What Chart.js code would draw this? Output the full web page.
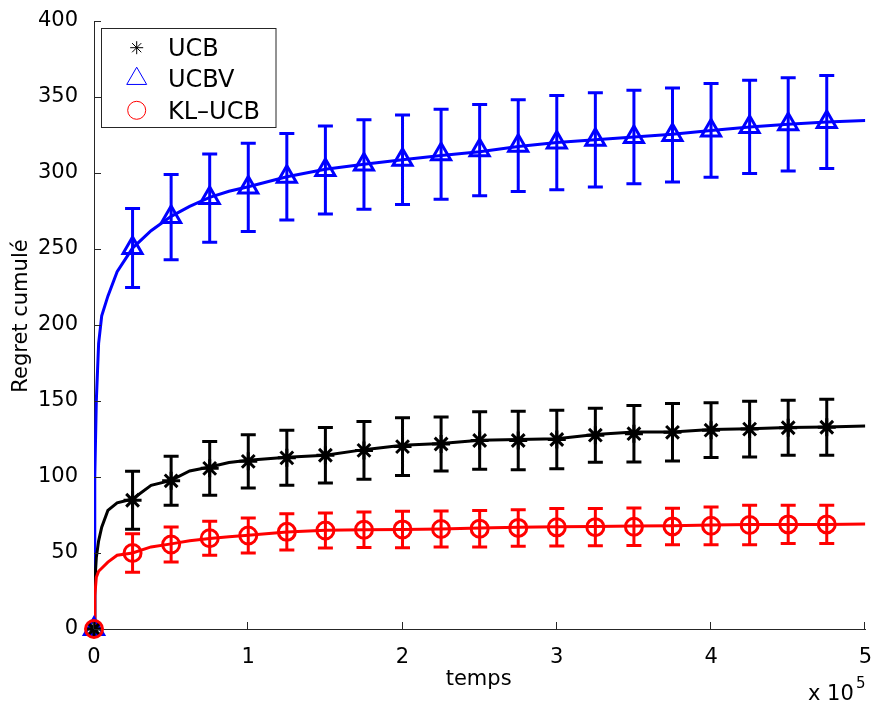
<!DOCTYPE html>
<html>
<head>
<meta charset="utf-8">
<title>Regret cumulé</title>
<script src="https://cdn.jsdelivr.net/npm/chart.js@4.4.0/dist/chart.umd.min.js"></script>
<style>
  html, body { margin: 0; padding: 0; background: #fff; overflow: hidden; }
  #wrap { width: 875px; height: 703px; overflow: hidden; }
</style>
</head>
<body>
<div id="wrap"><canvas id="regretChart" width="880" height="703"></canvas></div>
<script>
// temps (x 10^5) where the markers and error bars are
var markerX = [0, 0.25, 0.5, 0.75, 1, 1.25, 1.5, 1.75, 2, 2.25, 2.5, 2.75, 3, 3.25, 3.5, 3.75, 4, 4.25, 4.5, 4.75];

// mean regret and half-width of error bars at markerX
var ucbMean  = [0, 84.7, 97.5, 105.7, 110.3, 112.6, 114.3, 117.5, 120, 121.7, 124, 124, 124.7, 127.5, 128.5, 129.4, 130.8, 131.5, 132.4, 132.7];
var ucbErr   = [0, 19.1, 16.1, 17.7, 17.5, 18.1, 18.2, 19, 19, 17.7, 18.9, 19.2, 19.2, 17.8, 18.6, 18.9, 18, 18.3, 18.1, 18.4];
var ucbvMean = [0, 250.6, 271, 283.5, 290.5, 297.5, 302, 305.6, 308.7, 312.3, 315, 318, 320, 321.8, 323.7, 325, 328, 330.3, 332, 333.6];
var ucbvErr  = [0, 26, 28, 29, 29, 28.5, 29, 29.5, 29.5, 29.6, 30, 30.2, 31, 31, 30.7, 31, 30.8, 30.7, 30.7, 30.6];
var klMean   = [0, 50, 55.6, 59.7, 61.5, 63.9, 64.8, 65.3, 65.5, 65.8, 66, 66.5, 66.9, 67, 67.3, 67.5, 67.9, 68.4, 68.8, 68.8];
var klErr    = [0, 12.6, 11.5, 11.2, 11.5, 12, 11.5, 11.7, 12, 11.8, 12, 12, 12.3, 12.2, 12.3, 12, 12.4, 13, 12.6, 12.6];

// continuous regret curves
var curveX    = [0, 0.005, 0.015, 0.03, 0.05, 0.09, 0.15, 0.25, 0.37, 0.5, 0.62, 0.75, 0.875, 1, 1.25, 1.5, 1.75, 2, 2.25, 2.5, 2.75, 3, 3.25, 3.5, 3.75, 4, 4.25, 4.5, 4.75, 5];
var ucbCurve  = [0, 30, 47, 58, 67, 78, 83, 85.5, 94.5, 97.8, 104, 106.6, 109.5, 111, 113, 114.3, 118, 120.9, 122, 124.1, 124.6, 125.2, 128, 129.6, 129.6, 131.2, 131.8, 132.5, 132.9, 133.6];
var ucbvCurve = [0, 100, 150, 188, 206, 219, 235, 250.6, 262, 271.5, 278, 284, 288, 291, 297.5, 302.5, 305.8, 308.7, 311.5, 314, 317.5, 320, 321.8, 323.7, 325.5, 328, 330.3, 332, 333.6, 334.6];
var klCurve   = [0, 22, 34, 38, 40, 44, 48.5, 50, 54, 56, 58, 59.6, 60.7, 61.6, 63.8, 65, 65.3, 65.5, 65.8, 66.5, 67, 67.3, 67.5, 67.8, 68, 68.5, 68.7, 68.8, 68.8, 69];

var seriesNames = ['UCB', 'UCBV', 'KL\u2013UCB'];
var xTitle = 'temps';
var yTitle = 'Regret cumulé';

var FONT = 'DejaVu Sans';
var AXIS_COLOR = '#262626';

function pts(xs, ys) {
  return xs.map(function (x, i) { return { x: x, y: ys[i] }; });
}

var errorSets = [
  { mean: ucbvMean, err: ucbvErr, color: '#0000ff' },
  { mean: ucbMean, err: ucbErr, color: '#000000' },
  { mean: klMean, err: klErr, color: '#ff0000' }
];

// error bars, drawn through the chart scales
var errorBarPlugin = {
  id: 'errorBars',
  beforeDatasetsDraw: function (chart) {
    var ctx = chart.ctx, xs = chart.scales.x, ys = chart.scales.y;
    errorSets.forEach(function (s) {
      ctx.save();
      ctx.strokeStyle = s.color;
      ctx.lineWidth = 3;
      ctx.beginPath();
      for (var i = 0; i < markerX.length; i++) {
        if (!s.err[i]) continue;
        var px = xs.getPixelForValue(markerX[i]);
        var top = ys.getPixelForValue(s.mean[i] + s.err[i]);
        var bot = ys.getPixelForValue(s.mean[i] - s.err[i]);
        ctx.moveTo(px, top); ctx.lineTo(px, bot);
        ctx.moveTo(px - 7.5, top); ctx.lineTo(px + 7.5, top);
        ctx.moveTo(px - 7.5, bot); ctx.lineTo(px + 7.5, bot);
      }
      ctx.stroke();
      ctx.restore();
    });
  }
};

function drawStar(ctx, x, y, r) {
  var d = r * Math.SQRT1_2;
  ctx.beginPath();
  ctx.moveTo(x - r, y); ctx.lineTo(x + r, y);
  ctx.moveTo(x, y - r); ctx.lineTo(x, y + r);
  ctx.moveTo(x - d, y - d); ctx.lineTo(x + d, y + d);
  ctx.moveTo(x - d, y + d); ctx.lineTo(x + d, y - d);
  ctx.stroke();
}
function drawTriangle(ctx, x, y, r) {
  ctx.beginPath();
  ctx.moveTo(x, y - r);
  ctx.lineTo(x + r * 0.866, y + r * 0.5);
  ctx.lineTo(x - r * 0.866, y + r * 0.5);
  ctx.closePath();
  ctx.stroke();
}
function drawCircle(ctx, x, y, r) {
  ctx.beginPath();
  ctx.arc(x, y, r, 0, Math.PI * 2);
  ctx.stroke();
}

// inward ticks, axis titles, exponent and the boxed legend
var decorPlugin = {
  id: 'decor',
  afterDraw: function (chart) {
    var ctx = chart.ctx, xs = chart.scales.x, ys = chart.scales.y;
    var area = chart.chartArea;
    ctx.save();
    ctx.strokeStyle = AXIS_COLOR;
    ctx.lineWidth = 1;
    ctx.beginPath();
    ys.ticks.forEach(function (t) {
      var py = Math.round(ys.getPixelForValue(t.value)) + 0.5;
      ctx.moveTo(area.left, py); ctx.lineTo(area.left + 7, py);
    });
    xs.ticks.forEach(function (t) {
      var px = Math.round(xs.getPixelForValue(t.value)) - 0.5;
      ctx.moveTo(px, area.bottom); ctx.lineTo(px, area.bottom - 7);
    });
    ctx.stroke();

    ctx.fillStyle = '#000';
    ctx.font = '21px "' + FONT + '"';
    ctx.textAlign = 'center';
    ctx.textBaseline = 'alphabetic';
    ctx.fillText(xTitle, (area.left + area.right) / 2 - 1, 685);

    ctx.save();
    ctx.translate(27, 316);
    ctx.rotate(-Math.PI / 2);
    ctx.fillText(yTitle, 0, 0);
    ctx.restore();

    ctx.textAlign = 'left';
    ctx.fillText('x 10', 808, 700);
    ctx.font = '15px "' + FONT + '"';
    ctx.fillText('5', 856, 688);

    // legend box
    ctx.fillStyle = '#fff';
    ctx.fillRect(101.5, 28.5, 174.5, 99);
    ctx.strokeStyle = AXIS_COLOR;
    ctx.strokeRect(101.5, 28.5, 174.5, 99);

    var rows = [47.7, 78.7, 110.3];
    var colors = ['#000000', '#0000ff', '#ff0000'];
    ctx.lineWidth = 1;
    ctx.strokeStyle = colors[0]; drawStar(ctx, 136.7, rows[0], 6.5);
    ctx.strokeStyle = colors[1]; drawTriangle(ctx, 136.7, rows[1], 11.5);
    ctx.strokeStyle = colors[2]; drawCircle(ctx, 136.7, rows[2], 9);

    ctx.fillStyle = '#000';
    ctx.font = '24px "' + FONT + '"';
    ctx.textAlign = 'left';
    seriesNames.forEach(function (name, i) {
      ctx.fillText(name, 168, rows[i] + 8.7);
    });
    ctx.restore();
  }
};

var ctx = document.getElementById('regretChart').getContext('2d');
var regretChart = new Chart(ctx, {
  type: 'scatter',
  data: {
    datasets: [
      { label: seriesNames[2], data: pts(markerX, klMean), pointStyle: 'circle', pointRadius: 8.5,
        pointBorderWidth: 3, borderColor: '#ff0000', backgroundColor: 'rgba(0,0,0,0)', clip: false, order: 1 },
      { label: seriesNames[0], data: pts(markerX, ucbMean), pointStyle: 'star', pointRadius: 9,
        pointBorderWidth: 3, borderColor: '#000000', backgroundColor: 'rgba(0,0,0,0)', clip: false, order: 2 },
      { label: seriesNames[1], data: pts(markerX, ucbvMean), pointStyle: 'triangle', pointRadius: 11,
        pointBorderWidth: 3, borderColor: '#0000ff', backgroundColor: 'rgba(0,0,0,0)', clip: false, order: 3 },
      { label: seriesNames[2] + ' curve', data: pts(curveX, klCurve), showLine: true, pointRadius: 0,
        borderWidth: 3, borderColor: '#ff0000', order: 4 },
      { label: seriesNames[0] + ' curve', data: pts(curveX, ucbCurve), showLine: true, pointRadius: 0,
        borderWidth: 3, borderColor: '#000000', order: 5 },
      { label: seriesNames[1] + ' curve', data: pts(curveX, ucbvCurve), showLine: true, pointRadius: 0,
        borderWidth: 3, borderColor: '#0000ff', order: 6 }
    ]
  },
  options: {
    responsive: false,
    animation: false,
    devicePixelRatio: 1,
    layout: { padding: { top: 21, right: 0, left: 0, bottom: 0 } },
    plugins: {
      legend: { display: false },
      tooltip: { enabled: false }
    },
    scales: {
      x: {
        type: 'linear',
        min: 0, max: 5,
        afterFit: function (scale) { scale.height = 74; },
        grid: { display: false },
        border: { display: true, color: AXIS_COLOR, width: 1 },
        ticks: { stepSize: 1, padding: 8, color: '#000', font: { family: FONT, size: 21 } }
      },
      y: {
        type: 'linear',
        min: 0, max: 400,
        afterFit: function (scale) { scale.width = 94; },
        grid: { display: false },
        border: { display: true, color: AXIS_COLOR, width: 1 },
        ticks: { stepSize: 50, padding: 8, color: '#000', font: { family: FONT, size: 21 } }
      }
    }
  },
  plugins: [errorBarPlugin, decorPlugin]
});
</script>
</body>
</html>
